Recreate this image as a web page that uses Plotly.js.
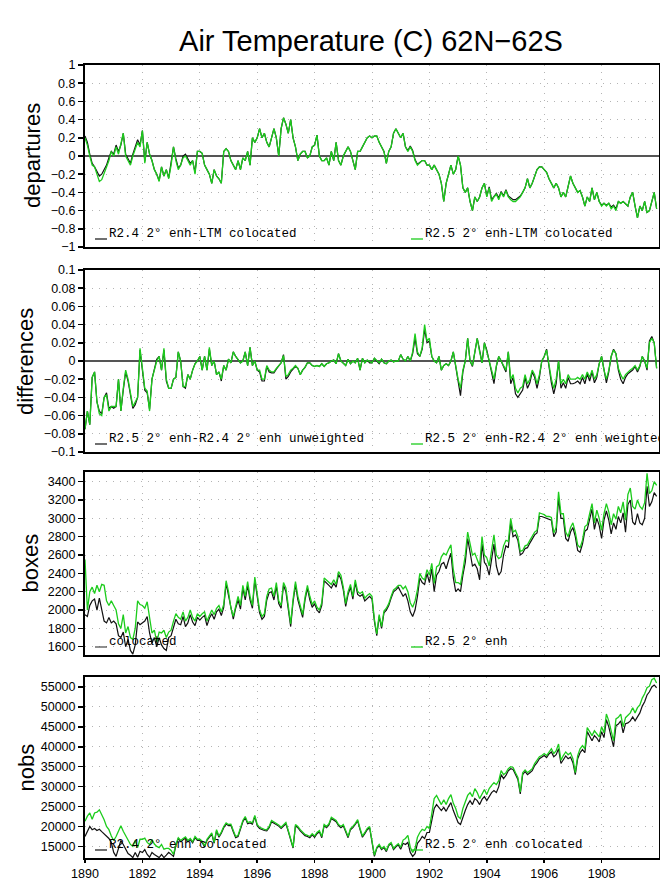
<!DOCTYPE html>
<html>
<head>
<meta charset="utf-8">
<script src="https://cdn.plot.ly/plotly-3.0.1.min.js"></script>
<style>html,body{margin:0;padding:0;background:#fff;}#chart{width:660px;height:880px;}</style>
</head>
<body>
<div id="chart"></div>
<script>
const years = [1890,1891,1892,1893,1894,1895,1896,1897,1898,1899,1900,1901,1902,1903,1904,1905,1906,1907,1908,1909];

const depR24 = [
0.22,0.15,0.02,-0.08,-0.12,-0.18,-0.22,-0.20,-0.15,-0.10,-0.02,0.05,
0.02,0.12,0.05,0.12,0.25,0.02,-0.03,-0.08,0.02,0.10,0.18,0.12,
0.28,-0.06,0.15,0.02,-0.05,-0.15,-0.20,-0.27,-0.12,-0.22,-0.15,-0.24,
-0.08,0.10,-0.03,-0.13,-0.10,0.00,0.02,-0.03,-0.08,-0.05,-0.18,0.05,
0.05,0.03,-0.10,-0.15,-0.20,-0.30,-0.15,-0.22,-0.25,-0.30,0.05,0.08,
0.05,-0.05,-0.10,-0.15,-0.05,-0.15,-0.02,-0.05,0.05,-0.10,0.20,0.15,
0.20,0.30,0.20,0.25,0.15,0.10,0.20,0.30,0.20,0.00,0.30,0.42,
0.35,0.25,0.40,0.20,0.10,-0.05,0.02,0.05,0.05,-0.02,0.00,0.10,
0.12,0.23,0.00,-0.05,-0.05,-0.02,-0.10,0.05,-0.05,0.15,-0.05,-0.10,
0.00,0.05,0.10,0.05,-0.05,-0.15,0.05,0.05,0.10,0.15,0.20,0.22,
0.20,0.22,0.22,0.15,0.10,0.05,-0.08,0.05,0.10,0.25,0.30,0.25,
0.20,0.25,0.10,0.06,0.11,0.06,-0.04,-0.09,-0.07,-0.05,-0.05,-0.10,
-0.10,-0.15,-0.10,-0.15,-0.20,-0.30,-0.50,-0.30,-0.20,-0.10,-0.20,-0.15,
0.00,-0.10,-0.35,-0.40,-0.35,-0.50,-0.60,-0.45,-0.50,-0.45,-0.35,-0.30,
-0.44,-0.34,-0.48,-0.44,-0.41,-0.46,-0.39,-0.44,-0.37,-0.44,-0.46,-0.48,
-0.48,-0.46,-0.44,-0.40,-0.35,-0.25,-0.35,-0.30,-0.22,-0.15,-0.12,-0.12,
-0.15,-0.18,-0.25,-0.30,-0.35,-0.30,-0.35,-0.45,-0.40,-0.45,-0.35,-0.22,
-0.30,-0.35,-0.40,-0.38,-0.45,-0.55,-0.45,-0.50,-0.35,-0.48,-0.40,-0.50,
-0.54,-0.52,-0.54,-0.52,-0.56,-0.54,-0.58,-0.50,-0.52,-0.50,-0.52,-0.55,
-0.45,-0.40,-0.55,-0.68,-0.55,-0.60,-0.50,-0.62,-0.60,-0.50,-0.40,-0.58
];
const depR25 = [
0.20,0.12,0.00,-0.10,-0.12,-0.20,-0.28,-0.26,-0.18,-0.12,-0.05,0.05,
0.00,0.10,0.02,0.12,0.25,0.00,-0.05,-0.10,0.00,0.08,0.15,0.10,
0.28,-0.08,0.15,0.02,-0.05,-0.15,-0.20,-0.28,-0.12,-0.22,-0.15,-0.25,
-0.10,0.10,-0.05,-0.15,-0.10,-0.02,0.00,-0.05,-0.10,-0.05,-0.20,0.05,
0.05,0.03,-0.10,-0.15,-0.20,-0.30,-0.15,-0.22,-0.25,-0.30,0.05,0.08,
0.05,-0.05,-0.10,-0.15,-0.05,-0.15,-0.02,-0.05,0.05,-0.10,0.20,0.15,
0.20,0.30,0.20,0.25,0.15,0.10,0.20,0.30,0.20,0.00,0.30,0.42,
0.35,0.25,0.40,0.20,0.10,-0.05,0.02,0.05,0.05,-0.02,0.00,0.10,
0.12,0.23,0.00,-0.05,-0.05,-0.02,-0.10,0.05,-0.05,0.15,-0.05,-0.10,
0.00,0.05,0.10,0.05,-0.05,-0.15,0.05,0.05,0.10,0.15,0.20,0.22,
0.20,0.22,0.22,0.15,0.10,0.05,-0.08,0.05,0.10,0.25,0.30,0.25,
0.20,0.25,0.10,0.05,0.10,0.05,-0.05,-0.10,-0.08,-0.05,-0.05,-0.10,
-0.10,-0.15,-0.10,-0.15,-0.20,-0.30,-0.50,-0.30,-0.20,-0.10,-0.20,-0.15,
0.00,-0.10,-0.35,-0.40,-0.35,-0.50,-0.60,-0.45,-0.50,-0.45,-0.35,-0.30,
-0.45,-0.35,-0.50,-0.45,-0.42,-0.48,-0.40,-0.45,-0.38,-0.45,-0.48,-0.50,
-0.50,-0.48,-0.45,-0.40,-0.35,-0.25,-0.35,-0.30,-0.22,-0.15,-0.12,-0.12,
-0.15,-0.18,-0.25,-0.30,-0.35,-0.30,-0.35,-0.45,-0.40,-0.45,-0.35,-0.22,
-0.30,-0.35,-0.40,-0.38,-0.45,-0.55,-0.45,-0.50,-0.35,-0.48,-0.40,-0.50,
-0.55,-0.52,-0.55,-0.52,-0.58,-0.55,-0.60,-0.50,-0.52,-0.50,-0.52,-0.55,
-0.45,-0.40,-0.55,-0.68,-0.55,-0.60,-0.50,-0.62,-0.60,-0.50,-0.40,-0.58
];

const difUnweighted = [
-0.075,-0.055,-0.070,-0.018,-0.012,-0.045,-0.055,-0.058,-0.040,-0.035,-0.052,-0.050,
-0.052,-0.050,-0.020,-0.055,-0.032,-0.012,-0.022,-0.037,-0.052,-0.048,-0.040,0.012,
-0.007,-0.032,-0.035,-0.053,-0.020,-0.008,0.002,0.005,-0.010,0.012,-0.022,-0.030,
-0.030,-0.020,-0.018,0.010,0.000,-0.028,-0.030,-0.015,-0.020,-0.010,-0.003,0.000,
0.005,-0.010,0.005,-0.010,0.013,-0.005,0.000,-0.015,-0.012,-0.022,-0.005,-0.010,
0.002,-0.002,0.010,0.005,0.002,-0.002,0.000,0.010,-0.005,0.015,-0.005,0.000,
-0.010,-0.012,-0.022,-0.022,-0.006,-0.012,-0.013,-0.013,-0.009,-0.005,-0.002,0.007,
-0.020,-0.017,-0.012,-0.009,-0.006,-0.008,-0.015,-0.010,-0.007,-0.002,-0.002,-0.005,
-0.006,-0.005,-0.006,-0.003,-0.006,-0.003,-0.002,0.000,0.001,-0.003,0.008,0.000,
-0.002,-0.005,0.002,-0.003,0.000,-0.002,0.003,-0.010,0.003,-0.002,0.001,-0.002,
-0.002,0.003,0.000,-0.003,0.002,-0.002,-0.003,0.000,0.001,-0.001,0.000,0.000,
0.007,0.002,0.000,0.005,0.000,0.008,0.025,0.008,0.005,0.013,0.035,0.020,
0.022,0.005,0.000,-0.002,0.005,-0.010,-0.005,-0.003,-0.005,0.000,0.010,-0.005,
-0.022,-0.038,-0.012,0.000,0.025,0.000,-0.006,0.010,0.025,0.012,-0.002,0.020,
0.012,0.000,-0.012,-0.025,-0.006,0.005,0.000,-0.006,-0.012,0.010,-0.025,-0.018,
-0.036,-0.040,-0.036,-0.032,-0.018,-0.030,-0.024,-0.012,-0.018,-0.030,-0.018,0.000,
0.005,0.013,-0.006,-0.024,-0.036,-0.025,0.000,-0.030,-0.024,-0.030,-0.018,-0.025,
-0.025,-0.024,-0.022,-0.025,-0.018,-0.025,-0.014,-0.022,-0.012,-0.024,-0.018,-0.003,
0.005,-0.012,-0.024,-0.012,0.005,0.013,0.008,-0.010,-0.020,-0.025,-0.018,-0.014,
-0.012,-0.010,-0.006,-0.012,-0.006,0.005,0.000,-0.010,0.022,0.027,0.020,-0.008
];
const difWeighted = [
-0.075,-0.055,-0.070,-0.018,-0.012,-0.045,-0.058,-0.060,-0.040,-0.037,-0.055,-0.050,
-0.050,-0.050,-0.020,-0.055,-0.030,-0.010,-0.020,-0.035,-0.050,-0.045,-0.040,0.014,
-0.005,-0.030,-0.033,-0.055,-0.020,-0.010,0.000,0.005,-0.010,0.014,-0.020,-0.030,
-0.030,-0.020,-0.018,0.010,0.000,-0.028,-0.028,-0.015,-0.020,-0.010,-0.003,0.000,
0.005,-0.010,0.005,-0.010,0.015,-0.005,0.000,-0.015,-0.012,-0.020,-0.005,-0.010,
0.002,-0.002,0.010,0.005,0.002,-0.002,0.000,0.010,-0.005,0.015,-0.005,0.000,
-0.010,-0.010,-0.020,-0.020,-0.005,-0.010,-0.012,-0.012,-0.008,-0.005,-0.002,0.006,
-0.017,-0.015,-0.010,-0.008,-0.005,-0.008,-0.015,-0.010,-0.007,-0.002,-0.002,-0.005,
-0.006,-0.005,-0.006,-0.003,-0.006,-0.003,-0.002,0.000,0.001,-0.003,0.008,0.000,
-0.002,-0.005,0.002,-0.003,0.000,-0.002,0.003,-0.010,0.003,-0.002,0.001,-0.001,
-0.002,0.003,0.000,-0.002,0.002,-0.002,-0.003,0.000,0.001,-0.001,0.000,0.000,
0.007,0.002,0.000,0.005,0.000,0.010,0.030,0.010,0.005,0.015,0.040,0.022,
0.025,0.005,0.000,-0.002,0.005,-0.010,-0.005,-0.003,-0.005,0.000,0.010,-0.005,
-0.020,-0.030,-0.010,0.000,0.025,0.000,-0.005,0.010,0.025,0.010,-0.002,0.020,
0.010,0.000,-0.010,-0.020,-0.005,0.005,0.000,-0.005,-0.010,0.010,-0.020,-0.015,
-0.030,-0.035,-0.030,-0.028,-0.015,-0.025,-0.020,-0.010,-0.015,-0.025,-0.015,0.000,
0.005,0.012,-0.005,-0.020,-0.030,-0.020,0.000,-0.025,-0.020,-0.025,-0.015,-0.020,
-0.020,-0.020,-0.018,-0.020,-0.015,-0.020,-0.012,-0.018,-0.010,-0.020,-0.015,-0.003,
0.005,-0.010,-0.020,-0.010,0.005,0.012,0.008,-0.008,-0.015,-0.020,-0.015,-0.012,
-0.010,-0.008,-0.005,-0.010,-0.005,0.005,0.000,-0.008,0.020,0.025,0.020,-0.008
];

const boxesColocated = [
1950,1930,2050,2100,2120,2000,2130,2000,1880,1860,1920,1860,
1880,1850,1720,1700,1760,1600,1680,1560,1520,1620,1870,1840,
1860,1880,1930,1750,1640,1700,1600,1700,1620,1580,1560,1700,
1720,1820,1900,1850,1840,1930,1820,1860,1950,1870,1830,1920,
1890,1920,1940,1830,1910,1960,1900,1980,2010,1940,2030,2290,
2160,1990,1900,2020,2110,2010,2240,2110,2270,2110,2020,2330,
2160,1970,1900,1930,2110,2190,2200,2110,2260,2070,2020,2270,
2200,2010,1820,2090,2280,2110,2020,1920,2110,2240,2110,2030,
2070,2000,1970,2050,2320,2300,2270,2240,2290,2250,2390,2340,
2220,2040,2170,2250,2120,2300,2170,2150,2170,2100,2130,2150,
2120,1880,1720,1930,1800,1970,2000,2050,2130,2200,2220,2250,
2200,2150,2180,2100,1980,1930,2000,2150,2350,2300,2280,2400,
2300,2450,2200,2380,2420,2500,2520,2450,2540,2620,2350,2200,
2230,2200,2380,2520,2780,2630,2480,2500,2450,2330,2720,2520,
2480,2380,2560,2720,2480,2380,2420,2600,2700,2680,2950,2800,
2820,2760,2600,2620,2670,2680,2730,2770,2820,2840,3020,3020,
3010,3000,2990,2980,2800,2850,3220,3000,3000,2780,2750,2850,
2900,2800,2650,2630,2720,2860,2880,3000,3100,2880,3000,2920,
2780,2980,3080,2980,2830,2950,2880,3020,2950,3060,2850,3150,
3200,2960,2930,3050,2950,2930,3000,3350,3130,3180,3280,3240
];
const boxesR25 = [
2550,2000,2200,2250,2180,2270,2200,2280,2270,2100,2050,2100,
2050,2000,1850,1800,1950,1750,1820,1700,1680,1800,2100,2060,
2050,2020,2090,1900,1750,1780,1650,1760,1750,1780,1700,1760,
1780,1880,1960,1920,1900,1980,1880,1920,2000,1920,1880,1960,
1930,1960,1980,1880,1950,2000,1950,2020,2050,1980,2060,2320,
2200,2020,1930,2050,2150,2050,2270,2150,2310,2150,2050,2360,
2200,2000,1930,1960,2150,2230,2240,2150,2300,2100,2050,2300,
2240,2050,1850,2120,2310,2150,2050,1950,2140,2270,2150,2060,
2100,2030,2000,2080,2350,2330,2300,2280,2330,2280,2420,2380,
2250,2070,2200,2280,2150,2330,2200,2180,2200,2130,2160,2180,
2150,1900,1740,1950,1820,1990,2020,2070,2150,2220,2240,2270,
2270,2230,2260,2200,2080,2030,2100,2220,2400,2350,2330,2440,
2380,2510,2290,2470,2490,2580,2620,2600,2660,2710,2440,2300,
2300,2280,2430,2600,2850,2710,2600,2620,2550,2480,2800,2600,
2570,2480,2650,2820,2600,2560,2580,2700,2760,2750,3000,2850,
2870,2800,2640,2650,2700,2710,2760,2800,2850,2870,3060,3050,
3040,3020,3020,3010,2840,2900,3290,3050,3050,2850,2800,2900,
2950,2850,2710,2680,2760,2910,2930,3050,3160,2950,3090,3000,
2870,3050,3160,3070,2930,3050,2990,3130,3060,3180,2980,3260,
3330,3130,3100,3200,3130,3100,3170,3490,3270,3300,3400,3360
];

const nobsR24 = [
17500,19000,20000,19200,19500,19000,19300,18700,18200,17500,17000,16000,
13500,12500,14500,16500,15500,14500,13200,12800,12200,13500,12300,13800,
13500,14200,13000,12300,13500,13000,12500,12200,13000,12200,12800,13500,
13000,12500,15200,17000,16200,16700,17100,16200,16700,15900,17200,16500,
16500,16000,14900,16500,17300,18100,15800,18900,17300,18300,19700,20600,
20200,20300,18700,17200,17500,19200,21200,22200,20700,20900,20600,22500,
20200,19500,19200,19000,18900,19700,21200,20900,20500,20100,19500,20200,
20700,18700,16700,14600,20200,19700,18900,18200,17700,17500,17200,17900,
17300,18200,18700,17200,20200,19700,20400,22000,21500,21200,20200,19700,
20200,18700,17200,19200,19700,20500,21400,19200,17300,18200,19200,19700,
16200,12500,14500,15200,14200,14700,13700,15200,15700,14200,14900,15400,
14300,15800,15500,16000,13500,12500,13200,15800,16500,17500,17000,18500,
18500,21500,24500,25500,24800,24000,24800,23800,25000,26000,24000,22500,
21000,20500,22500,24000,25500,26500,25500,27000,26500,25500,26800,27500,
26500,27500,28500,29000,28500,30000,33000,32000,32800,34000,34500,34300,
33000,31800,28200,33000,33800,33000,33500,34000,35300,36000,37000,37300,
37800,37300,38200,38700,37500,38000,39500,35800,36800,37700,37000,37400,
36000,33000,37000,38500,39300,38500,43800,42500,41500,42800,42200,41200,
43800,42300,46800,45000,42500,40000,45300,45700,46500,43500,45800,46000,
46500,47500,46500,47500,48500,50200,51300,53000,53800,55000,55500,54800
];
const nobsR25 = [
21300,22600,23400,21800,23400,23600,24200,23000,21700,20000,19200,17600,
16500,17500,19000,20200,18800,17500,16600,15500,15000,16500,14700,16800,
16800,17100,16000,15500,16700,15600,15000,14700,15500,14300,14500,14500,
14000,13000,15500,17200,16500,17000,17400,16500,17000,16200,17500,16800,
16800,16300,15100,16800,17600,18400,16000,19200,17600,18600,20000,20900,
20500,20600,19000,17500,17800,19500,21500,22500,21000,21200,20900,22800,
20500,19800,19500,19300,19200,20000,21500,21200,20800,20400,19800,20500,
21000,19000,17000,14800,20500,20000,19200,18500,18000,17800,17500,18200,
17600,18500,19000,17500,20500,20000,20700,22300,21800,21500,20500,20000,
20500,19000,17500,19500,20000,20800,21700,19500,17600,18500,19500,20000,
16500,12800,14800,15500,14500,15000,14000,15500,16000,14500,15200,15700,
14800,16600,17000,17800,14800,13500,14500,17300,18500,19300,19000,20000,
19500,23500,27000,27800,26500,25500,26700,25500,27000,28000,25800,24500,
22500,22000,24500,26200,27800,28500,27500,29500,28500,27000,28000,29300,
28000,29500,30300,31000,30500,31500,34000,33000,33500,34500,35000,34800,
33500,32300,28700,33500,34200,33500,34000,34500,35800,36600,37500,37800,
38300,37800,38700,39500,38300,39000,40700,36600,37800,38700,38000,38500,
37000,33500,37800,39500,40300,39500,44800,43700,42800,44000,43300,42500,
45000,43500,48200,46500,44000,41500,47000,47400,48200,45000,47300,47800,
48500,49800,48500,49800,50500,52200,53300,54800,55200,56800,57200,56000
];

const xTickVals = [1890,1892,1894,1896,1898,1900,1902,1904,1906,1908];
const xTickText = ["1890","1892","1894","1896","1898","1900","1902","1904","1906","1908"];
const depTicks = [1,0.8,0.6,0.4,0.2,0,-0.2,-0.4,-0.6,-0.8,-1];
const depTickText = ["1","0.8","0.6","0.4","0.2","0","\u22120.2","\u22120.4","\u22120.6","\u22120.8","\u22121"];
const difTicks = [0.1,0.08,0.06,0.04,0.02,0,-0.02,-0.04,-0.06,-0.08,-0.1];
const difTickText = ["0.1","0.08","0.06","0.04","0.02","0","\u22120.02","\u22120.04","\u22120.06","\u22120.08","\u22120.1"];
const boxTicks = [1600,1800,2000,2200,2400,2600,2800,3000,3200,3400];
const boxTickText = ["1600","1800","2000","2200","2400","2600","2800","3000","3200","3400"];
const nobsTicks = [15000,20000,25000,30000,35000,40000,45000,50000,55000];
const nobsTickText = ["15000","20000","25000","30000","35000","40000","45000","50000","55000"];

const panelTitles = ["departures","differences","boxes","nobs"];
const legendBlack = ["R2.4 2\u00b0 enh-LTM colocated","R2.5 2\u00b0 enh-R2.4 2\u00b0 enh unweighted","colocated","R2.4 2\u00b0 enh colocated"];
const legendGreen = ["R2.5 2\u00b0 enh-LTM colocated","R2.5 2\u00b0 enh-R2.4 2\u00b0 enh weighted","R2.5 2\u00b0 enh","R2.5 2\u00b0 enh colocated"];

// month positions on the time axis
const xMonths = [];
years.forEach(y => { for (let m = 0; m < 12; m++) xMonths.push(y + m / 12); });

const W = 660, H = 880;
const BLACK = '#111111', GREEN = '#1ccc1c';
const px = v => v / W, py = v => 1 - v / H;
const SANS = 'Liberation Sans, Arial, sans-serif';

// panel pixel boxes [top, bottom]
const panels = [[65,247],[270,452],[472,655],[677,858]];
const titleX = [33, 26, 30, 26];
const series = [[depR24,depR25],[difUnweighted,difWeighted],[boxesColocated,boxesR25],[nobsR24,nobsR25]];
const yRanges = [[-1,1],[-0.1,0.1],[1510,3505],[12100,57500]];
const yTicks = [[depTicks,depTickText],[difTicks,difTickText],[boxTicks,boxTickText],[nobsTicks,nobsTickText]];

const data = [];
const layout = {
  width: W, height: H,
  margin: {l:0, r:0, t:0, b:0},
  paper_bgcolor: '#fff', plot_bgcolor: '#fff',
  showlegend: false,
  font: {family: SANS, color: '#000', size: 12.5},
  title: {text: 'Air Temperature (C) 62N\u221262S', x: 371/W, xanchor: 'center', y: 1 - 41/H, yanchor: 'middle',
          font: {family: SANS, size: 29, color: '#000'}},
  shapes: [], annotations: []
};

panels.forEach((p, i) => {
  const n = i + 1;
  const xa = 'xaxis' + (n === 1 ? '' : n), ya = 'yaxis' + (n === 1 ? '' : n);
  const xr = 'x' + (n === 1 ? '' : n), yr = 'y' + (n === 1 ? '' : n);
  layout[xa] = {
    domain: [px(85), px(659)], anchor: yr, range: [1890, 1910],
    tickvals: xTickVals, ticktext: xTickText,
    showticklabels: i === 3, ticks: i === 3 ? 'outside' : '', ticklen: 3, tickwidth: 1.5, tickcolor: '#000',
    showgrid: true, gridcolor: '#b4b4b4', griddash: '1px,6px', gridwidth: 1,
    showline: true, mirror: true, linecolor: '#000', linewidth: 2, zeroline: false,
    tickfont: {size: 12.5, family: SANS}
  };
  if (i > 0) layout[xa].matches = 'x';
  layout[ya] = {
    domain: [py(p[1]), py(p[0])], anchor: xr, range: yRanges[i],
    tickvals: yTicks[i][0], ticktext: yTicks[i][1],
    ticks: 'outside', ticklen: 5, tickwidth: 1.5, tickcolor: '#000',
    showgrid: true, gridcolor: '#b4b4b4', griddash: '1px,6px', gridwidth: 1,
    showline: true, mirror: true, linecolor: '#000', linewidth: 2,
    zeroline: i < 2, zerolinecolor: '#555', zerolinewidth: 1.5,
    tickfont: {size: 12.5, family: SANS}
  };
  data.push({x: xMonths, y: series[i][0], xaxis: xr, yaxis: yr, type: 'scatter', mode: 'lines',
             line: {color: BLACK, width: 1.2}, hoverinfo: 'skip'});
  data.push({x: xMonths, y: series[i][1], xaxis: xr, yaxis: yr, type: 'scatter', mode: 'lines',
             line: {color: GREEN, width: 1.3}, hoverinfo: 'skip'});

  // y title
  layout.annotations.push({xref: 'paper', yref: 'paper', x: px(titleX[i]), y: py((p[0] + p[1]) / 2),
    text: panelTitles[i], textangle: -90, showarrow: false, xanchor: 'center', yanchor: 'middle',
    font: {size: 22, family: SANS, color: '#000'}});

  // legend entries
  const ly = p[1] - 13;
  layout.shapes.push({type: 'line', xref: 'paper', yref: 'paper', x0: px(95), x1: px(107), y0: py(ly + 5), y1: py(ly + 5),
    line: {color: i === 2 ? '#444' : BLACK, width: 1.2}});
  layout.shapes.push({type: 'line', xref: 'paper', yref: 'paper', x0: px(411), x1: px(423), y0: py(ly + 5), y1: py(ly + 5),
    line: {color: GREEN, width: 1.3}});
  layout.annotations.push({xref: 'paper', yref: 'paper', x: px(107), y: py(ly), text: legendBlack[i],
    showarrow: false, xanchor: 'left', yanchor: 'middle',
    font: {size: 12.5, family: 'Liberation Mono, DejaVu Sans Mono, monospace', color: '#000'}});
  layout.annotations.push({xref: 'paper', yref: 'paper', x: px(423), y: py(ly), text: legendGreen[i],
    showarrow: false, xanchor: 'left', yanchor: 'middle',
    font: {size: 12.5, family: 'Liberation Mono, DejaVu Sans Mono, monospace', color: '#000'}});
});

Plotly.newPlot('chart', data, layout, {staticPlot: true, displayModeBar: false});
</script>
</body>
</html>
